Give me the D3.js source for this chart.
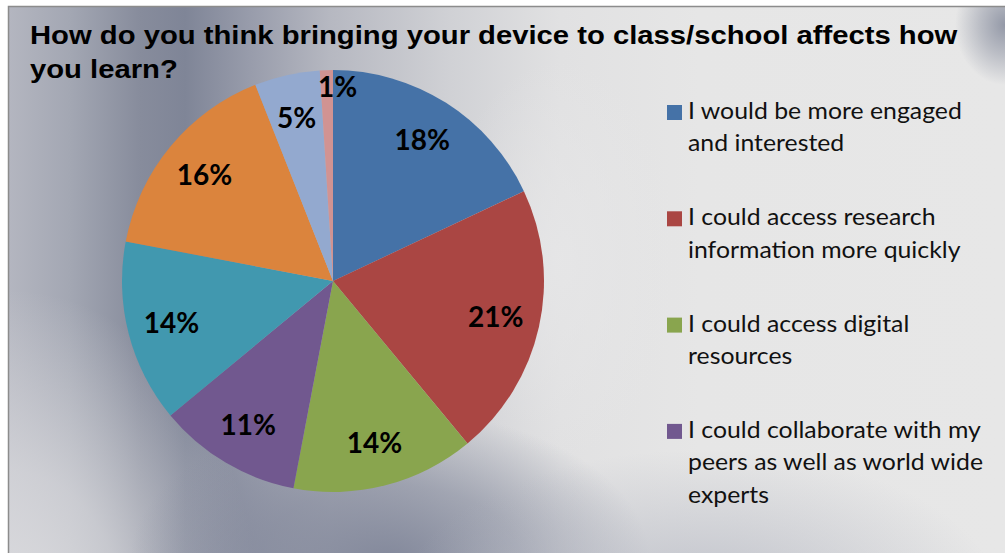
<!DOCTYPE html>
<html>
<head>
<meta charset="utf-8">
<script src="https://cdn.jsdelivr.net/npm/d3@7"></script>
<style>
  html, body { margin: 0; padding: 0; background: #ffffff; }
  svg { display: block; }
</style>
</head>
<body>
<svg id="chart" width="1005" height="553"></svg>
<script>
// Survey answers: share of responses per option (percent)
const sliceValues = [18, 21, 14, 11, 14, 16, 5, 1];
const sliceColors = ["#4572a7", "#aa4643", "#89a54e", "#71588f", "#4198af", "#db843d", "#93a9cf", "#d19392"];
// Legend entries (the legend box only has room for the first four options)
const legendLabels = [
  ["I would be more engaged", "and interested"],
  ["I could access research", "information more quickly"],
  ["I could access digital", "resources"],
  ["I could collaborate with my", "peers as well as world wide", "experts"]
];
const titleLines = [
  "How do you think bringing your device to class/school affects how",
  "you learn?"
];

const svg = d3.select("#chart");
const frame = { x: 8.5, y: 6.5, w: 1000, h: 550 };

const defs = svg.append("defs");
defs.append("clipPath").attr("id", "frameClip")
  .append("rect").attr("x", frame.x).attr("y", frame.y).attr("width", frame.w).attr("height", frame.h);

// Horizontal base shading of the chart area
const baseGrad = defs.append("linearGradient").attr("id", "baseGrad")
  .attr("gradientUnits", "userSpaceOnUse").attr("x1", 8).attr("x2", 1005).attr("y1", 0).attr("y2", 0);
[[8, "#b4b6c0"], [70, "#a3a7b3"], [140, "#878c9c"], [185, "#7f8597"], [250, "#989cab"],
 [330, "#b6b8c1"], [450, "#d0d1d5"], [560, "#e1e1e2"], [700, "#e6e6e6"], [1005, "#e7e7e7"]]
  .forEach(([x, c]) => baseGrad.append("stop").attr("offset", (x - 8) / 997).attr("stop-color", c));

function radial(id, color, stops) {
  const g = defs.append("radialGradient").attr("id", id);
  stops.forEach(([o, a]) => g.append("stop").attr("offset", o).attr("stop-color", color).attr("stop-opacity", a));
}
radial("lightLeft", "#dcdcdf", [[0, 1], [0.45, 0.7], [1, 0]]);
radial("darkBottom", "#7c8296", [[0, 0.9], [0.5, 0.55], [1, 0]]);
radial("greyRight", "#b4b7c2", [[0, 0.8], [1, 0]]);
radial("darkCorner", "#858b9c", [[0, 0.85], [0.5, 0.45], [1, 0]]);
radial("lightMid", "#e6e6e7", [[0, 0.9], [1, 0]]);

const bg = svg.append("g").attr("clip-path", "url(#frameClip)");
bg.append("rect").attr("x", frame.x).attr("y", frame.y).attr("width", frame.w).attr("height", frame.h)
  .attr("fill", "url(#baseGrad)");
bg.append("ellipse").attr("cx", 10).attr("cy", 620).attr("rx", 250).attr("ry", 330).attr("fill", "url(#lightLeft)");
bg.append("ellipse").attr("cx", 560).attr("cy", 260).attr("rx", 120).attr("ry", 200).attr("fill", "url(#lightMid)");
bg.append("ellipse").attr("cx", 390).attr("cy", 560).attr("rx", 260).attr("ry", 150).attr("fill", "url(#darkBottom)");
bg.append("ellipse").attr("cx", 700).attr("cy", 600).attr("rx", 300).attr("ry", 150).attr("fill", "url(#greyRight)");
bg.append("ellipse").attr("cx", 1005).attr("cy", 25).attr("rx", 50).attr("ry", 60).attr("fill", "url(#darkCorner)");

// Frame border
svg.append("rect").attr("x", frame.x).attr("y", frame.y).attr("width", frame.w).attr("height", frame.h)
  .attr("fill", "none").attr("stroke", "#8c8c8c").attr("stroke-width", 1.5);

// Title, stretched horizontally to its full run width
const title = svg.append("g");
const titleText = title.append("text")
  .attr("font-family", "'Liberation Sans', Arial, sans-serif")
  .attr("font-weight", "bold").attr("font-size", 25).attr("fill", "#000");
titleText.selectAll("tspan").data(titleLines).join("tspan")
  .attr("x", 0).attr("y", (d, i) => 44 + i * 34).text(d => d);
const titleW = titleText.select("tspan").node().getComputedTextLength();
title.attr("transform", `translate(30,0) scale(${928 / titleW},1)`);

// Pie
const cx = 333, cy = 281, R = 211;
const pie = d3.pie().sort(null).value(d => d);
const arcs = pie(sliceValues);
const arc = d3.arc().innerRadius(0).outerRadius(R);
const g = svg.append("g").attr("transform", `translate(${cx},${cy})`);
g.selectAll("path").data(arcs).join("path")
  .attr("d", arc).attr("fill", (d, i) => sliceColors[i]);

// Data labels: inside the slice, small slices pushed toward the rim
const labelArc = d3.arc().innerRadius(R * 0.79).outerRadius(R * 0.79);
const rimArc = d3.arc().innerRadius(R * 0.92).outerRadius(R * 0.92);
g.selectAll("text.lbl").data(arcs).join("text")
  .attr("class", "lbl")
  .attr("font-family", "Lato, 'Open Sans', sans-serif")
  .attr("font-weight", "bold").attr("font-size", 28).attr("fill", "#000")
  .attr("text-anchor", d => d.data < 2 ? "start" : "middle")
  .attr("transform", d => `translate(${(d.data < 2 ? rimArc : labelArc).centroid(d)})`)
  .attr("dx", d => d.data < 2 ? -9 : 0)
  .attr("dy", "0.36em")
  .text(d => d.data + "%");

// Legend
const legend = svg.append("g");
const item = legend.selectAll("g").data(legendLabels).join("g")
  .attr("transform", (d, i) => `translate(667,${119 + i * 106.3})`);
item.append("rect").attr("x", 0).attr("y", -14).attr("width", 15).attr("height", 15)
  .attr("fill", (d, i) => sliceColors[i]);
const legendText = item.append("g").attr("transform", "translate(21,0)")
  .append("text")
  .attr("font-family", "Lato, 'Open Sans', sans-serif")
  .attr("font-size", 23).attr("fill", "#111");
legendText.selectAll("tspan").data(d => d).join("tspan")
  .attr("x", 0).attr("y", (d, i) => i * 32.5).text(d => d);
const firstW = legendText.node().querySelector("tspan").getComputedTextLength();
const sx = 274 / firstW;
item.select("g").attr("transform", `translate(21,0) scale(${sx},1)`);
</script>
</body>
</html>
